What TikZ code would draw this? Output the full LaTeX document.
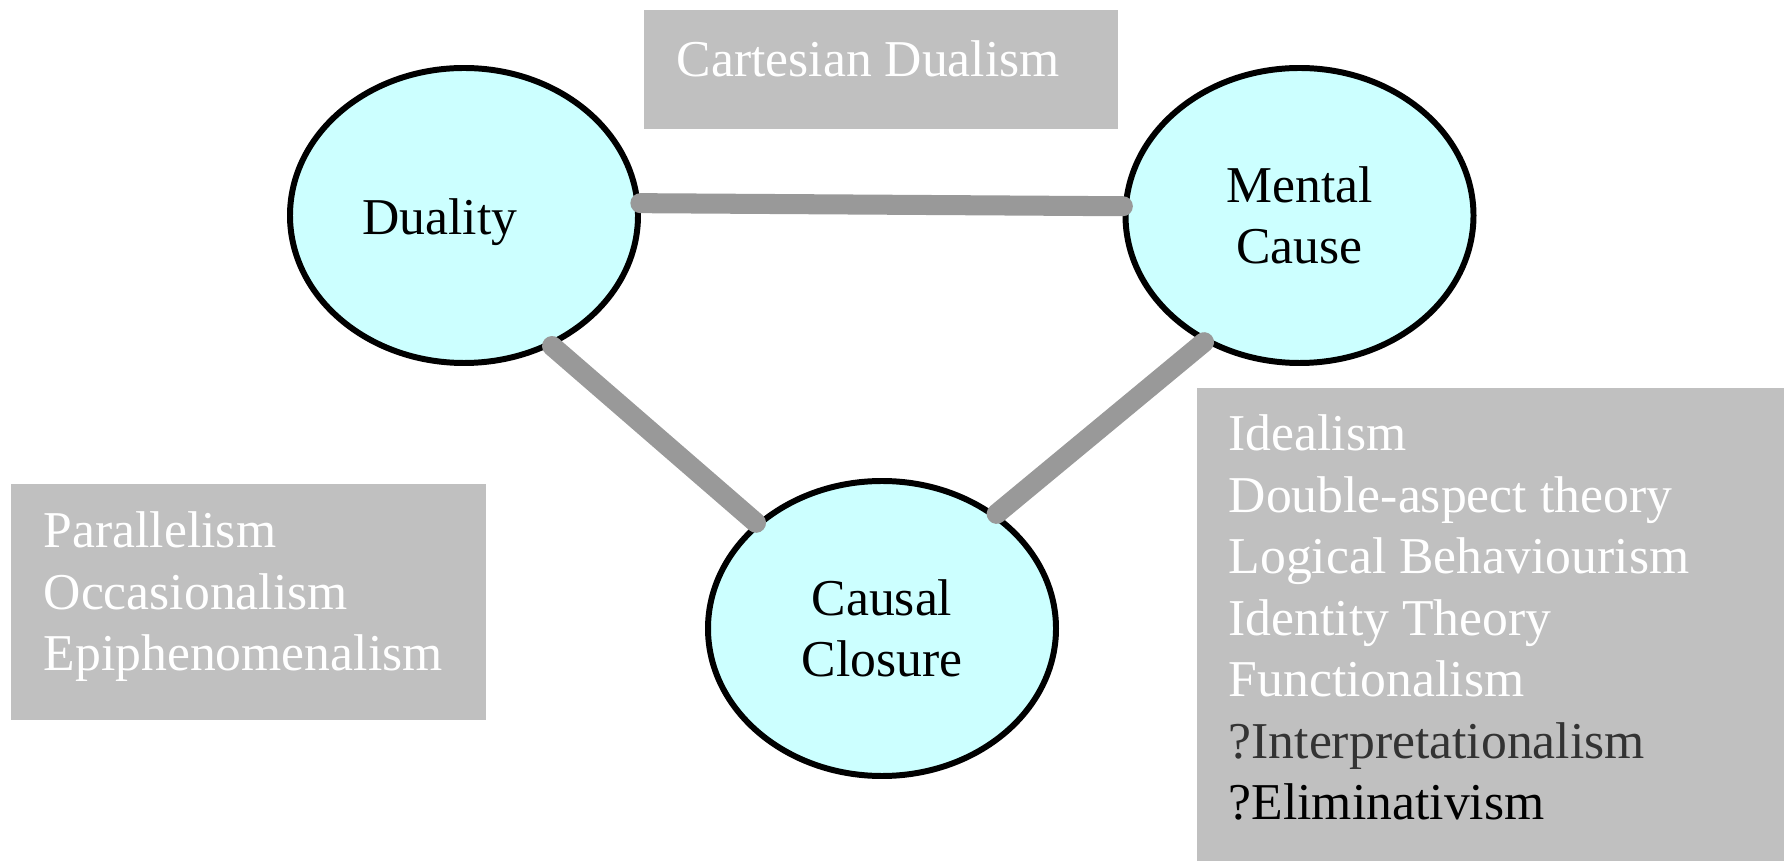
\documentclass[tikz,border=0pt]{standalone}
\usepackage{fontspec}
\setmainfont{Liberation Serif}
\usetikzlibrary{shapes.geometric, positioning}

\definecolor{cyanfill}{HTML}{CCFFFF}
\definecolor{boxgray}{HTML}{C0C0C0}
\definecolor{linkgray}{HTML}{999999}
\definecolor{darktext}{HTML}{333333}

\begin{document}
\begin{tikzpicture}[node distance=8.355cm, on grid, font=\fontsize{14.7}{17.5}\selectfont]
        \tikzset{idea/.style={ellipse, draw, line width=1.7pt, fill=cyanfill, minimum width=3.48cm, minimum height=2.95cm, align=center, inner sep=0pt}}
        \tikzset{panel/.style={rectangle, fill=boxgray, anchor=north west, inner sep=0pt}}
        \tikzset{panel text/.style={anchor=north west, align=left, inner sep=0pt, text=white}}
        % Define the look of the links between the ideas
        \tikzstyle{linkline}=[draw, linkgray, line width=5.7pt, line cap=round]

        \useasboundingbox (0,0) rectangle (17.84,-8.61);

        \node[idea] (dual) at (4.64,-2.155) {\raisebox{0pt}[0.38cm][0pt]{Duality}\hspace*{0.48cm}};
        \node[idea] (ment) [right=of dual] {Mental\\Cause};
        \node[idea] (caus) [below right=4.13cm and 4.18cm of dual] {Causal\\Closure};

        \node[panel, minimum width=4.74cm, minimum height=1.19cm] (cart) at (6.43,-0.09) {};
        \node[panel text] (cart_t) at ([shift={(0.33,-0.31)}]cart.north west) {Cartesian Dualism};

        \node[panel, minimum width=4.75cm, minimum height=2.36cm] (left) at (0.10,-4.83) {};
        \node[panel text] (left_t) at ([shift={(0.33,-0.28)}]left.north west)
        {Parallelism\\Occasionalism\\Epiphenomenalism};

        \node[panel, minimum width=5.88cm, minimum height=4.74cm] (right) at (11.96,-3.87) {};
        \node[panel text] (right_t) at ([shift={(0.32,-0.27)}]right.north west)
        {Idealism\\Double-aspect theory\\Logical Behaviourism\\Identity Theory\\Functionalism\\
        \textcolor{darktext}{?Interpretationalism}\\\textcolor{black}{?Eliminativism}};

        \path[linkline]
        (dual.4) edge (ment.177)
        (dual.-56) edge (caus.140)
        (ment.233) edge (caus.45);
    \end{tikzpicture}
\end{document}
